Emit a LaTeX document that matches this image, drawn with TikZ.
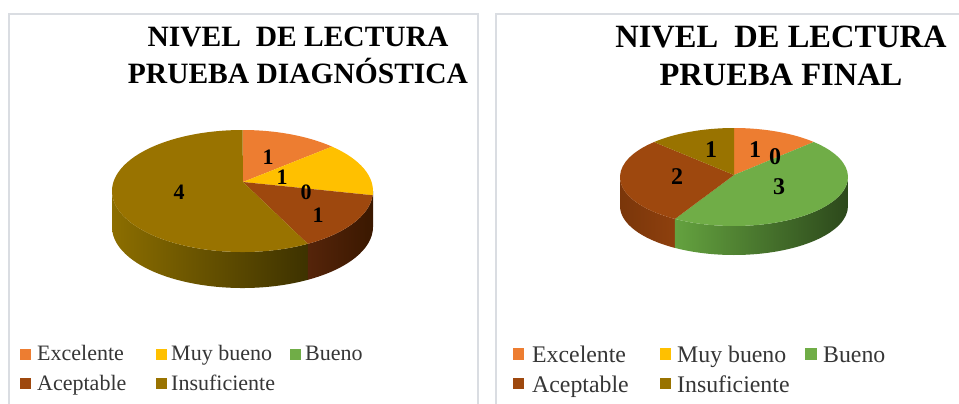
\documentclass[tikz,border=0pt]{standalone}
\usepackage{fontspec}
\setmainfont{Liberation Serif}
\definecolor{cexc}{HTML}{ED7D31}
\definecolor{cmuy}{HTML}{FFC000}
\definecolor{cbue}{HTML}{70AD47}
\definecolor{cace}{HTML}{9E480E}
\definecolor{cins}{HTML}{997300}
\definecolor{insrimA}{HTML}{8C6E00}
\definecolor{insrimM}{HTML}{6E5600}
\definecolor{insrimB}{HTML}{3D3200}
\definecolor{acerimA}{HTML}{55240A}
\definecolor{acerimB}{HTML}{3A1800}
\definecolor{acerimC}{HTML}{7A360A}
\definecolor{acerimD}{HTML}{8E400E}
\definecolor{buerimA}{HTML}{64A23F}
\definecolor{buerimB}{HTML}{2C481B}
\definecolor{panelc}{HTML}{DADDE2}
\definecolor{legtxt}{HTML}{363636}
\begin{document}
\begin{tikzpicture}[x=1bp,y=1bp,
  panel/.style={draw=panelc,line width=1.2bp},
  ttlL/.style={anchor=base,inner sep=0,font=\fontsize{29.5bp}{34bp}\selectfont\bfseries},
  ttlR/.style={anchor=base,inner sep=0,font=\fontsize{32.5bp}{37bp}\selectfont\bfseries},
  numL/.style={inner sep=0,font=\fontsize{22bp}{25bp}\selectfont\bfseries},
  numR/.style={inner sep=0,font=\fontsize{24bp}{27bp}\selectfont\bfseries},
  legL/.style={anchor=base west,inner sep=0,text=legtxt,font=\fontsize{22bp}{26bp}\selectfont},
  legR/.style={anchor=base west,inner sep=0,text=legtxt,font=\fontsize{23.8bp}{28bp}\selectfont},
  sqL/.style={minimum size=11bp,inner sep=0,anchor=center},
  sqR/.style={minimum size=11.5bp,inner sep=0,anchor=center}]
\useasboundingbox (0,0) rectangle (959,403);
\clip (0,0) rectangle (959,403);
\fill[white] (0,0) rectangle (959,403);
\draw[panel] (9,389) rectangle (478,-20);
\draw[panel] (496,389) rectangle (990,-20);

% ---------- left pie ----------
\coordinate (cL) at (242.5,212);
\coordinate (bL) at (242.5,176);
\coordinate (oL) at (243,221);
\shade[left color=insrimA, middle color=insrimM, right color=insrimB]
  ([shift={(180:130.5 and 61)}]cL) arc[start angle=180,end angle=300,x radius=130.5,y radius=61]
  -- ([shift={(300:130.5 and 61)}]bL) arc[start angle=300,end angle=180,x radius=130.5,y radius=61] -- cycle;
\shade[left color=acerimA, right color=acerimB]
  ([shift={(300:130.5 and 61)}]cL) arc[start angle=300,end angle=360,x radius=130.5,y radius=61]
  -- ([shift={(360:130.5 and 61)}]bL) arc[start angle=360,end angle=300,x radius=130.5,y radius=61] -- cycle;
\fill[cexc] (oL) -- ([shift={(90:130.5 and 61)}]cL) arc[start angle=90,end angle=46.7,x radius=130.5,y radius=61] -- cycle;
\fill[cmuy] (oL) -- ([shift={(46.7:130.5 and 61)}]cL) arc[start angle=46.7,end angle=-4,x radius=130.5,y radius=61] -- cycle;
\fill[cace] (oL) -- ([shift={(-4:130.5 and 61)}]cL) arc[start angle=-4,end angle=-60,x radius=130.5,y radius=61] -- cycle;
\fill[cins] (oL) -- ([shift={(-60:130.5 and 61)}]cL) arc[start angle=-60,end angle=-270,x radius=130.5,y radius=61] -- cycle;
\node[numL] (lEx) at (268,246) {1};
\node[numL] (lMb) at (282,226) {1};
\node[numL] (lBu) at (306,211) {0};
\node[numL] (lAc) at (318,188) {1};
\node[numL] (lIn) at (179,211) {4};

% ---------- right pie ----------
\coordinate (cR) at (734,226);
\coordinate (bR) at (734,197);
\coordinate (oR) at (734,228);
\shade[left color=acerimC, right color=acerimD]
  ([shift={(180:114 and 49)}]cR) arc[start angle=180,end angle=238.8,x radius=114,y radius=49]
  -- ([shift={(238.8:114 and 49)}]bR) arc[start angle=238.8,end angle=180,x radius=114,y radius=49] -- cycle;
\shade[left color=buerimA, right color=buerimB]
  ([shift={(238.8:114 and 49)}]cR) arc[start angle=238.8,end angle=360,x radius=114,y radius=49]
  -- ([shift={(360:114 and 49)}]bR) arc[start angle=360,end angle=238.8,x radius=114,y radius=49] -- cycle;
\fill[cexc] (oR) -- ([shift={(90:114 and 49)}]cR) arc[start angle=90,end angle=45.6,x radius=114,y radius=49] -- cycle;
\fill[cbue] (oR) -- ([shift={(45.6:114 and 49)}]cR) arc[start angle=45.6,end angle=-121.2,x radius=114,y radius=49] -- cycle;
\fill[cace] (oR) -- ([shift={(-121.2:114 and 49)}]cR) arc[start angle=-121.2,end angle=-225.5,x radius=114,y radius=49] -- cycle;
\fill[cins] (oR) -- ([shift={(-225.5:114 and 49)}]cR) arc[start angle=-225.5,end angle=-270,x radius=114,y radius=49] -- cycle;
\node[numR] (rIn) at (711,253) {1};
\node[numR] (rAc) at (677,226) {2};
\node[numR] (rEx) at (755,253) {1};
\node[numR] (rMb) at (775,246) {0};
\node[numR] (rBu) at (779,216) {3};

% ---------- titles ----------
\node[ttlL] (tL1) at (298,357) {NIVEL\ \ DE LECTURA};
\node[ttlL] (tL2) at (298,320) {PRUEBA DIAGNÓSTICA};
\node[ttlR] (tR1) at (781,356) {NIVEL\ \ DE LECTURA};
\node[ttlR] (tR2) at (781,318) {PRUEBA FINAL};

% ---------- legends ----------
\node[sqL,fill=cexc] (sLa) at (25.5,49) {};
\node[legL] (gLa) at (37,43) {Excelente};
\node[sqL,fill=cmuy] (sLb) at (161.5,49) {};
\node[legL] (gLb) at (171,43) {Muy bueno};
\node[sqL,fill=cbue] (sLc) at (295.5,49) {};
\node[legL] (gLc) at (305,43) {Bueno};
\node[sqL,fill=cace] (sLd) at (25.5,20) {};
\node[legL] (gLd) at (37,13) {Aceptable};
\node[sqL,fill=cins] (sLe) at (161.5,20) {};
\node[legL] (gLe) at (171,13) {Insuficiente};

\node[sqR,fill=cexc] (sRa) at (518.5,49) {};
\node[legR] (gRa) at (532,41) {Excelente};
\node[sqR,fill=cmuy] (sRb) at (665.5,49) {};
\node[legR] (gRb) at (677,41) {Muy bueno};
\node[sqR,fill=cbue] (sRc) at (811,49) {};
\node[legR] (gRc) at (823,41) {Bueno};
\node[sqR,fill=cace] (sRd) at (518.5,19.5) {};
\node[legR] (gRd) at (532,11) {Aceptable};
\node[sqR,fill=cins] (sRe) at (665.5,19.5) {};
\node[legR] (gRe) at (677,11) {Insuficiente};
\end{tikzpicture}
\end{document}
